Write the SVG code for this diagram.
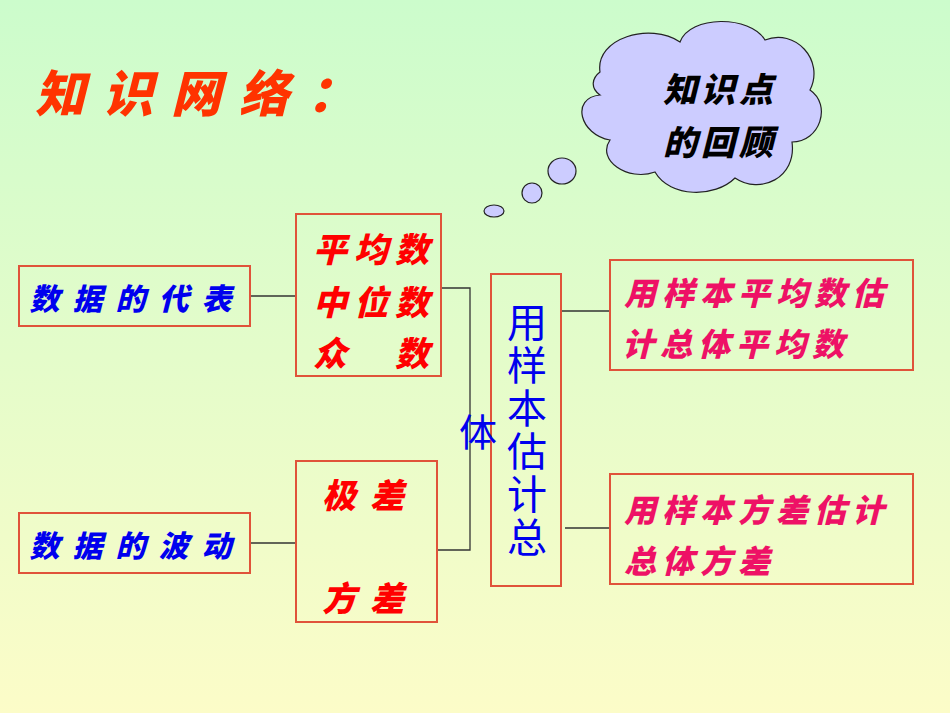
<svg xmlns="http://www.w3.org/2000/svg" width="950" height="713" viewBox="0 0 950 713">
<defs>
<linearGradient id="bg" x1="0" y1="0" x2="0" y2="1"><stop offset="0" stop-color="#ccfccc"/><stop offset="1" stop-color="#fcfcc8"/></linearGradient>
<style>
.box{fill:none;stroke:#e0533a;stroke-width:2}
.ln{fill:none;stroke:#333;stroke-width:1.3}
.k{font-family:"Noto Sans CJK SC",sans-serif;font-weight:900;font-style:italic}
.b{fill:#0000ee}.r{fill:#ff0000}.p{fill:#ee1166}
.cl{fill:#ccccff;stroke:#222;stroke-width:1.2}
</style>
</defs>
<rect width="950" height="713" fill="url(#bg)"/>
<text x="35" y="112" class="k" font-size="50" fill="#ff3300" letter-spacing="18">知识网络：</text>
<g id="cloud">
<path class="cl" d="M600,72 C595,38 650,22 680,42 C690,15 750,15 765,40 C795,28 825,60 810,90 C832,105 820,142 792,142 C797,178 760,195 735,178 C715,198 670,198 655,172 C628,182 596,160 610,140 C580,135 570,98 600,95 C590,88 592,78 600,72 Z"/>
<ellipse class="cl" cx="562" cy="171" rx="14" ry="13"/>
<ellipse class="cl" cx="532" cy="193" rx="10" ry="10"/>
<ellipse class="cl" cx="494" cy="211" rx="10" ry="6"/>
<text x="720" y="102" text-anchor="middle" class="k" font-size="34" fill="#000" letter-spacing="4" font-style="normal">知识点</text>
<text x="720" y="155" text-anchor="middle" class="k" font-size="34" fill="#000" letter-spacing="4" font-style="normal">的回顾</text>
</g>
<g id="connectors">
<path class="ln" d="M250,296 H296 M250,543 H296 M441,288 H470 V550 H437 M561,311 H610 M565,528 H610"/>
</g>
<g id="n1"><rect class="box" x="19" y="266" width="231" height="60"/><text x="137" y="310" text-anchor="middle" class="k b" font-size="30" letter-spacing="13">数据的代表</text></g>
<g id="n2"><rect class="box" x="19" y="513" width="231" height="60"/><text x="137" y="557" text-anchor="middle" class="k b" font-size="30" letter-spacing="13">数据的波动</text></g>
<g id="n3"><rect class="box" x="296" y="214" width="145" height="162"/>
<text x="313" y="262" class="k r" font-size="34" letter-spacing="7">平均数</text>
<text x="313" y="315" class="k r" font-size="34" letter-spacing="7">中位数</text>
<text x="313" y="366" class="k r" font-size="34">众</text><text x="395" y="366" class="k r" font-size="34">数</text></g>
<g id="n4"><rect class="box" x="296" y="461" width="141" height="161"/>
<text x="322" y="508" class="k r" font-size="34" letter-spacing="14">极差</text>
<text x="322" y="611" class="k r" font-size="34" letter-spacing="14">方差</text></g>
<g id="n5"><rect class="box" x="491" y="274" width="70" height="312"/>
<text x="527" y="302" writing-mode="vertical-rl" font-family="'Noto Sans CJK SC',sans-serif" font-size="40" letter-spacing="3" fill="#0000ee">用样本估计总</text>
<text x="478" y="446" text-anchor="middle" font-family="'Noto Sans CJK SC',sans-serif" font-size="38" fill="#0000ee">体</text></g>
<g id="n6"><rect class="box" x="610" y="260" width="303" height="110"/>
<text x="624" y="305" class="k p" font-size="32" letter-spacing="6">用样本平均数估</text>
<text x="622" y="356" class="k p" font-size="32" letter-spacing="6">计总体平均数</text></g>
<g id="n7"><rect class="box" x="610" y="474" width="303" height="110"/>
<text x="624" y="522" class="k p" font-size="32" letter-spacing="6">用样本方差估计</text>
<text x="624" y="573" class="k p" font-size="32" letter-spacing="6">总体方差</text></g>
</svg>
